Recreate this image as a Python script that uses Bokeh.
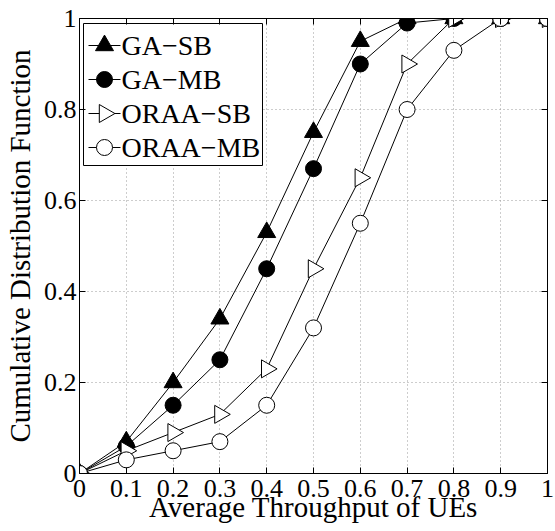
import numpy as np
from bokeh.plotting import figure
from bokeh.models import LinearAxis, FixedTicker, CustomJSTickFormatter, Range1d
from bokeh.core.properties import value
from bokeh.embed import file_html
from bokeh.resources import INLINE

# ---- data ----
x = [0, 0.1, 0.2, 0.3, 0.4, 0.5, 0.6, 0.7, 0.8, 0.9, 1.0]
ga_sb = [0, 0.07, 0.20, 0.34, 0.53, 0.75, 0.95, 1.0, 1.0, 1.0, 1.0]
ga_mb = [0, 0.06, 0.15, 0.25, 0.45, 0.67, 0.90, 0.99, 1.0, 1.0, 1.0]
oraa_sb = [0, 0.05, 0.09, 0.13, 0.23, 0.45, 0.65, 0.90, 1.0, 1.0, 1.0]
oraa_mb = [0, 0.03, 0.05, 0.07, 0.15, 0.32, 0.55, 0.80, 0.93, 1.0, 1.0]
names = ["GA\u2212SB", "GA\u2212MB", "ORAA\u2212SB", "ORAA\u2212MB"]
x_ticks = [0, 0.1, 0.2, 0.3, 0.4, 0.5, 0.6, 0.7, 0.8, 0.9, 1.0]
y_ticks = [0, 0.2, 0.4, 0.6, 0.8, 1.0]

FONT = "'Liberation Serif'"
FW, FH = 468, 455

p = figure(frame_width=FW, frame_height=FH, output_backend="svg", toolbar_location=None,
           x_range=Range1d(0, 1), y_range=Range1d(0, 1),
           min_border_left=79, min_border_right=8, min_border_top=18, min_border_bottom=58)
p.background_fill_color = "white"
p.border_fill_color = "white"
p.outline_line_color = "black"
p.outline_line_width = 1
p.extra_x_ranges = {"px": Range1d(0, FW)}
p.extra_y_ranges = {"px": Range1d(0, FH)}

fmt = CustomJSTickFormatter(code="var s = tick.toFixed(1); return s.replace(/\\.0$/, '');")

for ax, ticks in ((p.xaxis[0], x_ticks), (p.yaxis[0], y_ticks)):
    ax.ticker = FixedTicker(ticks=ticks)
    ax.formatter = fmt
    ax.major_tick_in = 6
    ax.major_tick_out = 0
    ax.minor_tick_line_color = None
    ax.axis_line_color = "black"
    ax.major_label_text_font = FONT
    ax.major_label_text_font_size = "26px"
    ax.major_label_text_color = "black"
    ax.axis_label_text_font = FONT
    ax.axis_label_text_font_size = "29px"
    ax.axis_label_text_font_style = "normal"
    ax.axis_label_text_color = "black"
p.xaxis.axis_label = "Average Throughput of UEs"
p.yaxis.axis_label = "Cumulative Distribution Function"
p.xaxis.major_label_standoff = 6
p.xaxis.axis_label_standoff = -9
p.yaxis.major_label_standoff = 3
p.yaxis.axis_label_standoff = 5

blank = CustomJSTickFormatter(code="return '';")
for loc, ticks in (("above", x_ticks), ("right", y_ticks)):
    a = LinearAxis(ticker=FixedTicker(ticks=ticks), formatter=blank, major_tick_in=6,
                   major_tick_out=0, minor_tick_line_color=None,
                   major_label_standoff=0, axis_line_color="black")
    p.add_layout(a, loc)

p.xgrid.ticker = FixedTicker(ticks=x_ticks)
p.ygrid.ticker = FixedTicker(ticks=y_ticks)
p.grid.grid_line_color = "#9a9a9a"
p.grid.grid_line_dash = "1 3"
p.grid.grid_line_width = 1

series = [
    (ga_sb, "triangle", "black", 18, 0.0),
    (ga_mb, "circle", "black", 16, 0.0),
    (oraa_sb, "triangle", "white", 18, -np.pi / 2),
    (oraa_mb, "circle", "white", 16, 0.0),
]
for ys, marker, fill, size, ang in series:
    p.line(x, ys, line_color="black", line_width=1)
    p.scatter(x, ys, marker=marker, size=size, angle=ang, fill_color=fill,
              line_color="black", line_width=1)

# ---- legend (drawn in frame pixel space) ----
LEG_LEFT, LEG_TOP_GAP, LEG_W, LEG_H = 4, 5, 179, 142
ROW_FIRST, ROW_STEP = 22, 34
GLYPH_L, GLYPH_R, GLYPH_MID, TEXT_X = 5, 37, 21, 38
leg_top = FH - LEG_TOP_GAP
p.quad(left=[LEG_LEFT], right=[LEG_LEFT + LEG_W], top=[leg_top], bottom=[leg_top - LEG_H],
       fill_color="white", line_color="black", line_width=1,
       x_range_name="px", y_range_name="px")
for i, (ys, marker, fill, size, ang) in enumerate(series):
    ry = leg_top - ROW_FIRST - ROW_STEP * i
    p.segment(x0=[LEG_LEFT + GLYPH_L], x1=[LEG_LEFT + GLYPH_R], y0=[ry], y1=[ry],
              line_color="black", line_width=1, x_range_name="px", y_range_name="px")
    p.scatter([LEG_LEFT + GLYPH_MID], [ry], marker=marker, size=size, angle=ang,
              fill_color=fill, line_color="black", line_width=1,
              x_range_name="px", y_range_name="px")
    p.text(x=[LEG_LEFT + TEXT_X], y=[ry], text=[names[i]], text_font=value(FONT),
           text_font_size="28px", text_baseline="middle", text_align="left",
           text_color="black", x_range_name="px", y_range_name="px")

open("out.html", "w").write(file_html(p, INLINE))
